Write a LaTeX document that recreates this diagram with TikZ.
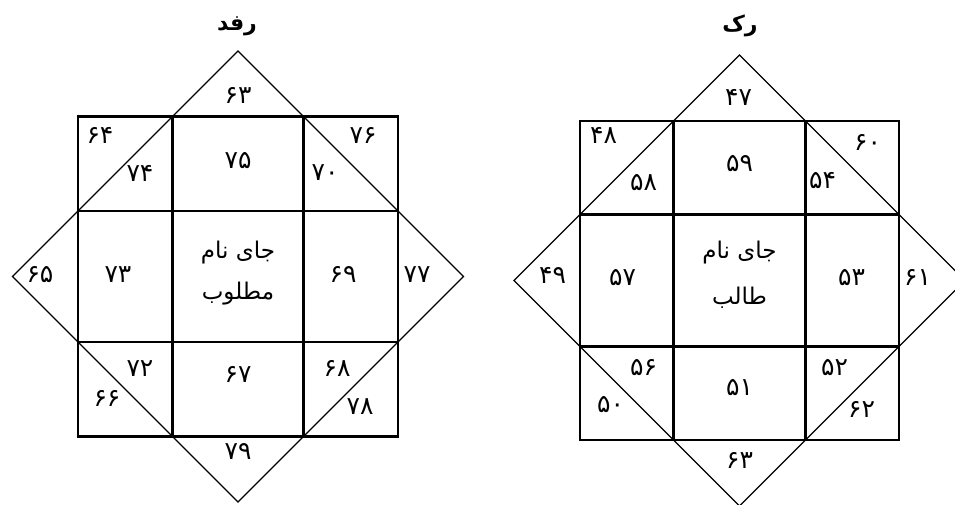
\documentclass[tikz,border=0pt]{standalone}
\usepackage{fontspec}
\newfontfamily\arabicfont[Script=Arabic]{DejaVu Sans}
\TeXXeTstate=1
\tikzset{
  gridline/.style={line width=2.2pt},
  diamline/.style={line width=1.3pt, line join=miter},
  num/.style={font=\arabicfont\fontsize{25}{28}\selectfont, inner sep=0pt},
  word/.style={font=\arabicfont\fontsize{23}{26}\selectfont, inner sep=0pt},
  ttl/.style={font=\arabicfont\bfseries\fontsize{22}{25}\selectfont, inner sep=0pt}
}
\begin{document}
\begin{tikzpicture}[x=1pt,y=-1pt]
\useasboundingbox (0,0) rectangle (955,504);
\fill[white] (0,0) rectangle (955,504);
\clip (0,0) rectangle (955,504);
% ---------- left chart ----------
\begin{scope}[shift={(238,276.5)}]
  \def\a{160}\def\b{65.5}
  \draw[gridline] (-\a,-\a) rectangle (\a,\a);
  \draw[gridline] (-\b,-\a) -- (-\b,\a) (\b,-\a) -- (\b,\a)
                  (-\a,-\b) -- (\a,-\b) (-\a,\b) -- (\a,\b);
  \draw[diamline] (0,-225.5) -- (225.5,0) -- (0,225.5) -- (-225.5,0) -- cycle;
  \node[num] (L63) at (0,-181) {۶۳};
  \node[num] (L64) at (-138,-141) {۶۴};
  \node[num] (L74) at (-98,-103) {۷۴};
  \node[num] (L75) at (0,-116) {۷۵};
  \node[num] (L76) at (125,-141) {۷۶};
  \node[num] (L70) at (87,-104) {۷۰};
  \node[num] (L65) at (-198,-2) {۶۵};
  \node[num] (L73) at (-120,-2) {۷۳};
  \node[num] (L69) at (105,-2) {۶۹};
  \node[num] (L77) at (179,-2) {۷۷};
  \node[num] (L72) at (-98,92) {۷۲};
  \node[num] (L66) at (-131,122) {۶۶};
  \node[num] (L67) at (0,98) {۶۷};
  \node[num] (L68) at (99,92) {۶۸};
  \node[num] (L78) at (122,130) {۷۸};
  \node[num] (L79) at (0,175) {۷۹};
  \node[word] (Lc1) at (0,-24) {\beginR جای نام\endR};
  \node[word] (Lc2) at (0,17) {\beginR مطلوب\endR};
\end{scope}
\node[ttl] (Lt) at (237,26) {\beginR رفد\endR};
% ---------- right chart ----------
\begin{scope}[shift={(739.5,280.5)}]
  \def\a{159.5}\def\b{66}
  \draw[gridline] (-\a,-\a) rectangle (\a,\a);
  \draw[gridline] (-\b,-\a) -- (-\b,\a) (\b,-\a) -- (\b,\a)
                  (-\a,-\b) -- (\a,-\b) (-\a,\b) -- (\a,\b);
  \draw[diamline] (0,-225.5) -- (225.5,0) -- (0,225.5) -- (-225.5,0) -- cycle;
  \node[num] (R47) at (-1,-183) {۴۷};
  \node[num] (R48) at (-136,-145) {۴۸};
  \node[num] (R58) at (-96,-98) {۵۸};
  \node[num] (R59) at (0,-117) {۵۹};
  \node[num] (R60) at (128,-138) {۶۰};
  \node[num] (R54) at (83,-100) {۵۴};
  \node[num] (R49) at (-187,-5) {۴۹};
  \node[num] (R57) at (-117,-3) {۵۷};
  \node[num] (R53) at (112,-3) {۵۳};
  \node[num] (R61) at (178,-3) {۶۱};
  \node[num] (R56) at (-96,87) {۵۶};
  \node[num] (R50) at (-129,124) {۵۰};
  \node[num] (R51) at (0,107) {۵۱};
  \node[num] (R52) at (95,87) {۵۲};
  \node[num] (R62) at (122,129) {۶۲};
  \node[num] (R63) at (0,180) {۶۳};
  \node[word] (Rc1) at (0,-28) {\beginR جای نام\endR};
  \node[word] (Rc2) at (0,17) {\beginR طالب\endR};
\end{scope}
\node[ttl] (Rt) at (740,26) {\beginR رک\endR};
\end{tikzpicture}
\end{document}
